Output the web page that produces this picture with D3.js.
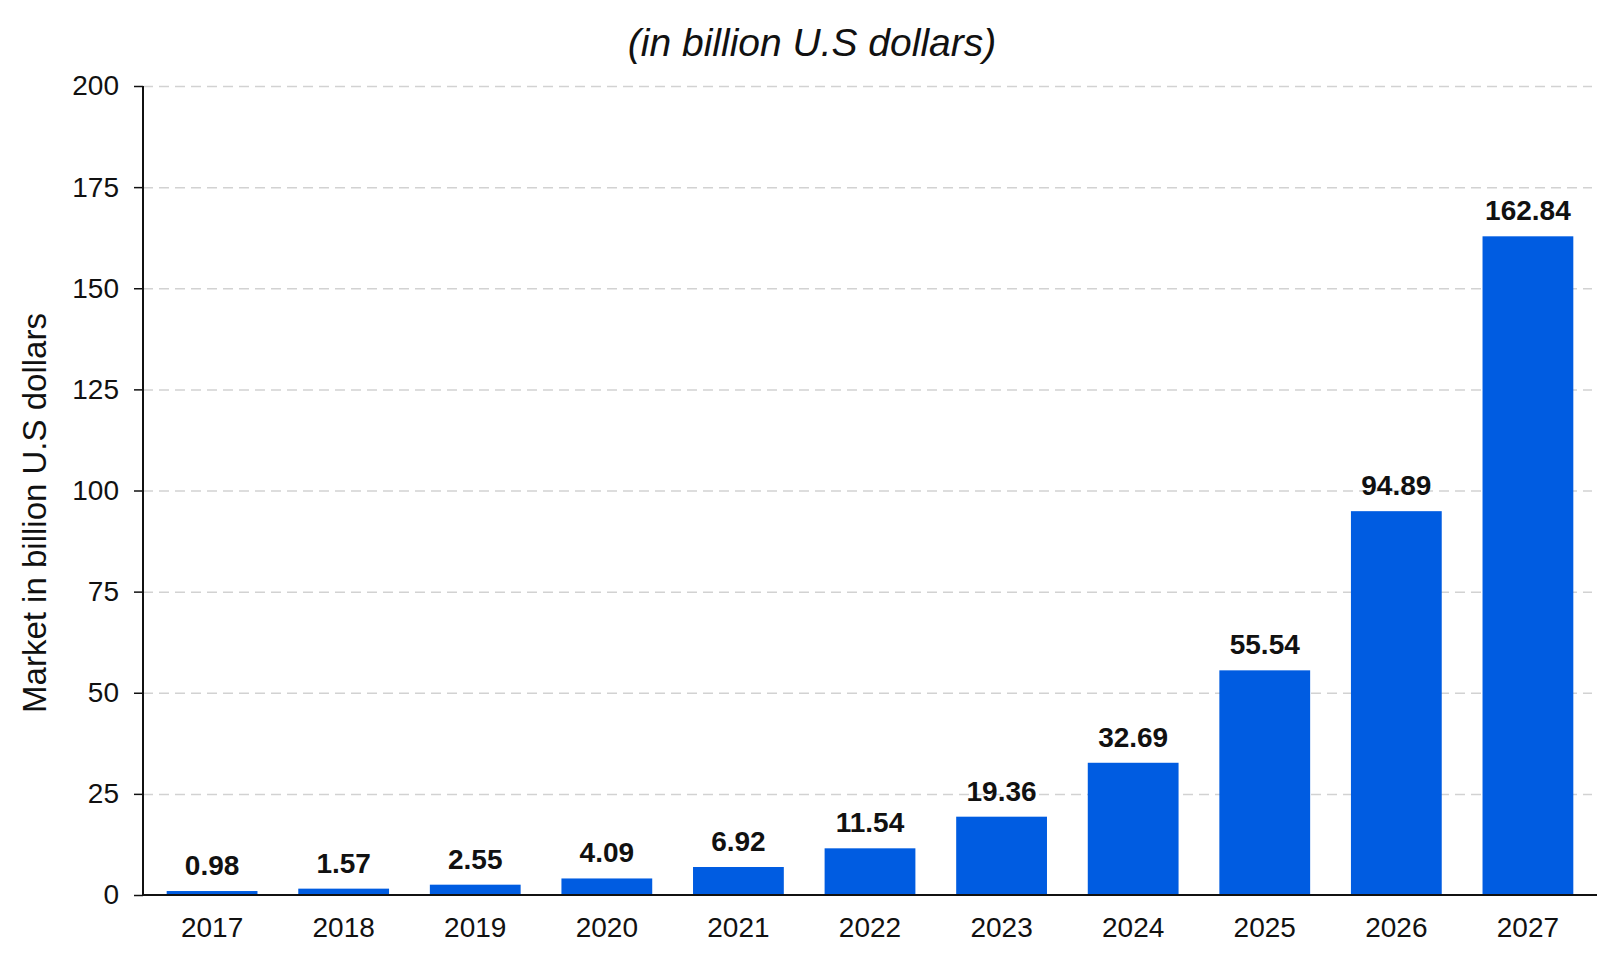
<!DOCTYPE html>
<html lang="en">
<head>
	<meta charset="UTF-8">
	<title>Market in billion U.S dollars</title>
	<style>
		body { margin: 0; background: #fff; }
		svg { display: block; font-family: "Liberation Sans", Arial, Helvetica, sans-serif; }
	</style>
</head>
<body>
	<script src="https://cdn.jsdelivr.net/npm/d3@7/dist/d3.min.js"></script>

	<script type="text/javascript">

		// data
		var years = ["2017", "2018", "2019", "2020", "2021", "2022", "2023", "2024", "2025", "2026", "2027"];
		var values = [0.98, 1.57, 2.55, 4.09, 6.92, 11.54, 19.36, 32.69, 55.54, 94.89, 162.84];
		var yTicks = [0, 25, 50, 75, 100, 125, 150, 175, 200];

		var width = 1620;
		var height = 971;

		var svg = d3.select("body")
					.append("svg")
					.attr("width", width)
					.attr("height", height);

		// plot area (not "top": that name is taken by window.top)
		var plot = { left: 143, right: 1597, top: 86, bottom: 895 };

		var x = d3.scaleBand()
				  .domain(years)
				  .range([plot.left, plot.right])
				  .paddingInner(0.31)
				  .paddingOuter(0.18);

		var y = d3.scaleLinear()
				  .domain([0, 200])
				  .range([plot.bottom, plot.top]);

		// dashed gridlines
		var grid = svg.append("g")
					  .attr("transform", "translate(" + plot.left + ",0)")
					  .call(d3.axisLeft(y).tickValues(yTicks).tickSize(-(plot.right - plot.left - 5)).tickFormat(""));
		grid.select(".domain").remove();
		grid.selectAll("line")
			.attr("stroke", "#d2d2d2")
			.attr("stroke-width", 1.5)
			.attr("stroke-dasharray", "10,6");
		grid.selectAll(".tick")
			.filter(function(d) { return d === 0; })
			.remove();

		// bars
		svg.selectAll("rect.bar")
		   .data(values)
		   .enter()
		   .append("rect")
		   .attr("class", "bar")
		   .attr("fill", "#005ce1")
		   .attr("x", function(d, i) { return x(years[i]); })
		   .attr("y", function(d) { return y(d); })
		   .attr("width", x.bandwidth())
		   .attr("height", function(d) { return y(0) - y(d); });

		// value labels
		svg.selectAll("text.val")
		   .data(values)
		   .enter()
		   .append("text")
		   .attr("class", "val")
		   .attr("x", function(d, i) { return x(years[i]) + x.bandwidth() / 2; })
		   .attr("y", function(d) { return y(d) - 16; })
		   .attr("text-anchor", "middle")
		   .attr("font-size", "28px")
		   .attr("font-weight", "bold")
		   .attr("fill", "#111")
		   .text(function(d) { return d3.format(".2f")(d); });

		// y axis
		var yAxis = svg.append("g")
					   .attr("transform", "translate(" + plot.left + ",0)")
					   .call(d3.axisLeft(y).tickValues(yTicks).tickSize(9).tickPadding(15).tickFormat(d3.format("d")));
		yAxis.select(".domain").attr("stroke", "#111").attr("stroke-width", 2).attr("d", "M0," + plot.bottom + "V" + plot.top);
		yAxis.selectAll("line").attr("stroke", "#111").attr("stroke-width", 1.5);
		yAxis.selectAll("text").attr("font-size", "28px").attr("fill", "#111").attr("font-family", null);

		// x axis
		var xAxis = svg.append("g")
					   .attr("transform", "translate(0," + plot.bottom + ")")
					   .call(d3.axisBottom(x).tickSize(0).tickPadding(22));
		xAxis.select(".domain").attr("stroke", "#111").attr("stroke-width", 2).attr("d", "M" + plot.left + ",0H" + plot.right);
		xAxis.selectAll("text").attr("font-size", "28px").attr("fill", "#111").attr("font-family", null);

		// title
		svg.append("text")
		   .attr("x", 812)
		   .attr("y", 56)
		   .attr("text-anchor", "middle")
		   .attr("font-size", "39px")
		   .attr("font-style", "italic")
		   .attr("fill", "#111")
		   .text("(in billion U.S dollars)");

		// y axis title
		svg.append("text")
		   .attr("transform", "translate(46,513) rotate(-90)")
		   .attr("text-anchor", "middle")
		   .attr("font-size", "33px")
		   .attr("fill", "#111")
		   .text("Market in billion U.S dollars");

	</script>
</body>
</html>
